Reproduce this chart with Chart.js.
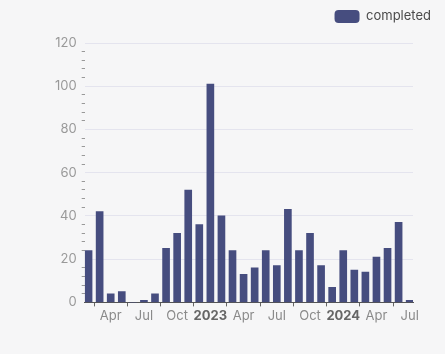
<!DOCTYPE html>
<html>
<head>
<meta charset="utf-8">
<script src="https://cdn.jsdelivr.net/npm/chart.js@4"></script>
<style>
  html, body { margin: 0; padding: 0; background: #f6f6f7; }
  #wrap { width: 445px; height: 354px; }
</style>
</head>
<body>
<div id="wrap"><canvas id="grafico"></canvas></div>
<script>
// months Feb 2022 .. Jul 2024
const meses = ['Feb','Mar','Apr','May','Jun','Jul','Aug','Sep','Oct','Nov','Dec',
  'Jan','Feb','Mar','Apr','May','Jun','Jul','Aug','Sep','Oct','Nov','Dec',
  'Jan','Feb','Mar','Apr','May','Jun','Jul'];
const completed = [24, 42, 4, 5, 0, 1, 4, 25, 32, 52, 36,
  101, 40, 24, 13, 16, 24, 17, 43, 24, 32, 17, 7,
  24, 15, 14, 21, 25, 37, 1];
// which month index gets an x tick, and its text
const tickIdx = [2, 5, 8, 11, 14, 17, 20, 23, 26, 29];
const tickLabels = ['Apr', 'Jul', 'Oct', '2023', 'Apr', 'Jul', 'Oct', '2024', 'Apr', 'Jul'];

const corBarra = '#464d7f';
const fonte = 'Inter, "Noto Sans", sans-serif';

// extra gap under the legend, and push it closer to the right edge
const espacoLegenda = {
    id: 'espacoLegenda',
    beforeInit(chart) {
        const fitOrig = chart.legend.fit;
        chart.legend.fit = function () {
            fitOrig.call(this);
            this.height += 10;
        };
    },
    afterLayout(chart) {
        chart.legend.left += 28;
        chart.legend.right += 28;
    }
};

const ctx = document.getElementById('grafico').getContext('2d');
new Chart(ctx, {
    type: 'bar',
    data: {
        datasets: [{
            label: 'completed',
            data: completed.map((v, i) => ({ x: i, y: v })),
            backgroundColor: corBarra,
            borderWidth: 0,
            barThickness: 7
        }]
    },
    plugins: [espacoLegenda],
    options: {
        responsive: true,
        maintainAspectRatio: false,
        animation: false,
        layout: { padding: { left: 50, right: 32, top: 0, bottom: 28 } },
        plugins: {
            legend: {
                position: 'top',
                align: 'end',
                labels: {
                    boxWidth: 25,
                    boxHeight: 13,
                    useBorderRadius: true,
                    borderRadius: 4,
                    color: '#4a4a4a',
                    font: { family: fonte, size: 13 },
                    padding: 10
                }
            },
            tooltip: { enabled: false }
        },
        scales: {
            x: {
                type: 'linear',
                min: -0.35,
                max: 29.3,
                offset: false,
                afterBuildTicks: (scale) => {
                    scale.ticks = tickIdx.map(v => ({ value: v }));
                },
                ticks: {
                    autoSkip: false,
                    maxRotation: 0,
                    padding: 2,
                    callback: (val) => {
                        const k = tickIdx.indexOf(val);
                        return k >= 0 ? tickLabels[k] : null;
                    },
                    color: (c) => (c.tick && /^\d{4}$/.test(c.tick.label) ? '#666' : '#8a8a8a'),
                    font: (c) => ({
                        family: fonte,
                        size: 13,
                        weight: c.tick && /^\d{4}$/.test(c.tick.label) ? 'bold' : 'normal'
                    })
                },
                grid: {
                    drawOnChartArea: false,
                    drawTicks: true,
                    tickLength: 4,
                    tickColor: '#666'
                },
                border: { color: '#555', width: 1 }
            },
            y: {
                min: 0,
                max: 120,
                ticks: {
                    stepSize: 4,
                    autoSkip: false,
                    padding: 5,
                    color: '#999',
                    font: { family: fonte, size: 13 },
                    callback: (val) => (val % 20 === 0 ? val : '')
                },
                grid: {
                    color: (c) => (c.tick && c.tick.value % 20 === 0 && c.tick.value > 0 ? '#e4e4ee' : 'rgba(0,0,0,0)'),
                    tickColor: (c) => (c.tick && c.tick.value % 20 !== 0 ? '#999' : 'rgba(0,0,0,0)'),
                    tickLength: 3
                },
                border: { display: false }
            }
        }
    }
});
</script>
</body>
</html>
